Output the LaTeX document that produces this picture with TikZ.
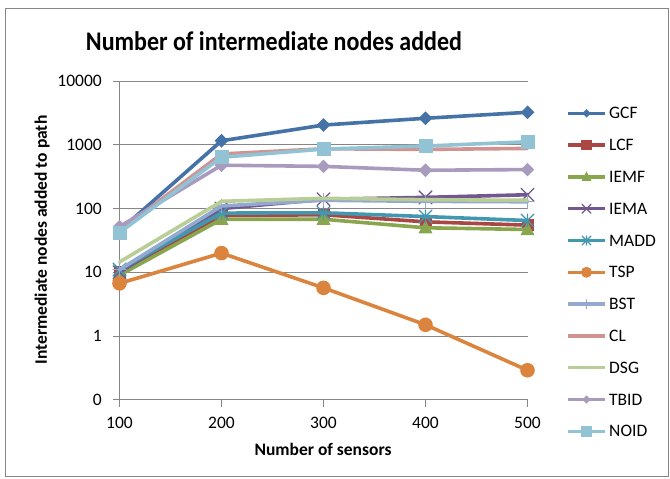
\documentclass[tikz,border=0pt]{standalone}
\usepackage{fontspec}
\setmainfont{Carlito}
\usetikzlibrary{plotmarks}

% Marker shapes in the Office chart style
\pgfdeclareplotmark{mdia}{%
  \pgfpathmoveto{\pgfqpoint{0pt}{\pgfplotmarksize}}%
  \pgfpathlineto{\pgfqpoint{\pgfplotmarksize}{0pt}}%
  \pgfpathlineto{\pgfqpoint{0pt}{-\pgfplotmarksize}}%
  \pgfpathlineto{\pgfqpoint{-\pgfplotmarksize}{0pt}}%
  \pgfpathclose\pgfusepathqfill}
\pgfdeclareplotmark{msq}{%
  \pgfpathrectangle{\pgfqpoint{-\pgfplotmarksize}{-\pgfplotmarksize}}%
    {\pgfqpoint{2\pgfplotmarksize}{2\pgfplotmarksize}}%
  \pgfusepathqfill}
\pgfdeclareplotmark{mtri}{%
  \pgfpathmoveto{\pgfqpoint{0pt}{1.1\pgfplotmarksize}}%
  \pgfpathlineto{\pgfqpoint{\pgfplotmarksize}{-0.8\pgfplotmarksize}}%
  \pgfpathlineto{\pgfqpoint{-\pgfplotmarksize}{-0.8\pgfplotmarksize}}%
  \pgfpathclose\pgfusepathqfill}
\pgfdeclareplotmark{mdot}{%
  \pgfpathcircle{\pgfpointorigin}{\pgfplotmarksize}\pgfusepathqfill}
\pgfdeclareplotmark{mcross}{%
  \pgfpathmoveto{\pgfqpoint{-\pgfplotmarksize}{-\pgfplotmarksize}}%
  \pgfpathlineto{\pgfqpoint{\pgfplotmarksize}{\pgfplotmarksize}}%
  \pgfpathmoveto{\pgfqpoint{-\pgfplotmarksize}{\pgfplotmarksize}}%
  \pgfpathlineto{\pgfqpoint{\pgfplotmarksize}{-\pgfplotmarksize}}%
  \pgfusepathqstroke}
\pgfdeclareplotmark{mstar}{%
  \pgfpathmoveto{\pgfqpoint{-\pgfplotmarksize}{-\pgfplotmarksize}}%
  \pgfpathlineto{\pgfqpoint{\pgfplotmarksize}{\pgfplotmarksize}}%
  \pgfpathmoveto{\pgfqpoint{-\pgfplotmarksize}{\pgfplotmarksize}}%
  \pgfpathlineto{\pgfqpoint{\pgfplotmarksize}{-\pgfplotmarksize}}%
  \pgfpathmoveto{\pgfqpoint{0pt}{-\pgfplotmarksize}}%
  \pgfpathlineto{\pgfqpoint{0pt}{\pgfplotmarksize}}%
  \pgfusepathqstroke}
\pgfdeclareplotmark{mplus}{%
  \pgfpathmoveto{\pgfqpoint{-\pgfplotmarksize}{0pt}}%
  \pgfpathlineto{\pgfqpoint{\pgfplotmarksize}{0pt}}%
  \pgfpathmoveto{\pgfqpoint{0pt}{-\pgfplotmarksize}}%
  \pgfpathlineto{\pgfqpoint{0pt}{\pgfplotmarksize}}%
  \pgfusepathqstroke}

\definecolor{cGCF}{HTML}{4572A7}
\definecolor{cLCF}{HTML}{AA4643}
\definecolor{cIEMF}{HTML}{89A54E}
\definecolor{cIEMA}{HTML}{71588F}
\definecolor{cMADD}{HTML}{4198AF}
\definecolor{cTSP}{HTML}{DB843D}
\definecolor{cBST}{HTML}{93A9CF}
\definecolor{cCL}{HTML}{D19392}
\definecolor{cDSG}{HTML}{B9CD96}
\definecolor{cTBID}{HTML}{A99BBD}
\definecolor{cNOID}{HTML}{91C3D5}
\definecolor{gridgray}{HTML}{868686}

\tikzset{
  series/.style={line width=3.6pt, line join=round, line cap=round,
    mark options={line width=1.3pt, solid}},
  gridline/.style={draw=gridgray, line width=1pt},
  axisline/.style={draw=gridgray, line width=1pt},
  frameline/.style={draw=gridgray, line width=1pt},
  ticklabel/.style={inner sep=0pt, font=\fontsize{17.5}{20}\selectfont},
  axtitle/.style={inner sep=0pt, font=\fontsize{17.5}{20}\selectfont\bfseries},
  legendtext/.style={inner sep=0pt, anchor=west, font=\fontsize{17.5}{20}\selectfont},
}

\begin{document}
\begin{tikzpicture}[x=1pt, y=-1pt,
  declare function={yp(\v)=336-63.7*log10(\v);}]
\useasboundingbox (0,0) rectangle (670,479);

% chart frame
\draw[frameline] (5.5,8.5) rectangle (668.5,476.5);

% title
\node[inner sep=0pt, anchor=base, yscale=1.12, font=\fontsize{24}{29}\selectfont\bfseries]
  (title) at (274,50) {Number of intermediate nodes added};

% gridlines and value labels (log scale)
\foreach \g in {1,10,100,1000,10000} {
  \draw[gridline] (113,{yp(\g)}) -- (527.5,{yp(\g)});
  \node[ticklabel, anchor=east] at (102,{yp(\g)}) {\g};
}
\node[ticklabel, anchor=east] (yzero) at (102,399.7) {0};

% axes
\draw[axisline] (119.5,81.2) -- (119.5,399.7) -- (527.5,399.7);
\draw[axisline] (113,399.7) -- (119.5,399.7);
\foreach \k/\lab in {0/100,1/200,2/300,3/400,4/500} {
  \draw[axisline] ({119.5+102*\k},399.7) -- ({119.5+102*\k},406.5);
  \node[ticklabel] at ({119.5+102*\k},423) {\lab};
}

% axis titles
\node[axtitle] (xtitle) at (323,449) {Number of sensors};
\node[axtitle, rotate=90] (ytitle) at (42,240) {Intermediate nodes added to path};

% data series
\draw[series, cGCF] plot[mark=mdia, mark size=6.8pt] coordinates {
  (119.5,{yp(45)}) (221.5,{yp(1160)}) (323.5,{yp(2050)}) (425.5,{yp(2620)}) (527.5,{yp(3250)})};
\draw[series, cLCF] plot[mark=msq, mark size=6pt] coordinates {
  (119.5,{yp(10)}) (221.5,{yp(78)}) (323.5,{yp(80)}) (425.5,{yp(62)}) (527.5,{yp(55)})};
\draw[series, cIEMF] plot[mark=mtri, mark size=7pt] coordinates {
  (119.5,{yp(9)}) (221.5,{yp(68)}) (323.5,{yp(68)}) (425.5,{yp(50)}) (527.5,{yp(47)})};
\draw[series, cIEMA] plot[mark=mcross, mark size=6.5pt] coordinates {
  (119.5,{yp(10)}) (221.5,{yp(100)}) (323.5,{yp(140)}) (425.5,{yp(150)}) (527.5,{yp(165)})};
\draw[series, cMADD] plot[mark=mstar, mark size=6.5pt] coordinates {
  (119.5,{yp(11)}) (221.5,{yp(85)}) (323.5,{yp(86)}) (425.5,{yp(75)}) (527.5,{yp(65)})};
\draw[series, cTSP] plot[mark=mdot, mark size=7.3pt] coordinates {
  (119.5,{yp(6.7)}) (221.5,{yp(20)}) (323.5,{yp(5.7)}) (425.5,{yp(1.5)}) (527.5,{yp(0.29)})};
\draw[series, cBST] plot[mark=mplus, mark size=6.5pt] coordinates {
  (119.5,{yp(11)}) (221.5,{yp(110)}) (323.5,{yp(135)}) (425.5,{yp(130)}) (527.5,{yp(128)})};
\draw[series, cCL] plot coordinates {
  (119.5,{yp(45)}) (221.5,{yp(720)}) (323.5,{yp(870)}) (425.5,{yp(850)}) (527.5,{yp(880)})};
\draw[series, cDSG] plot coordinates {
  (119.5,{yp(14.5)}) (221.5,{yp(130)}) (323.5,{yp(145)}) (425.5,{yp(138)}) (527.5,{yp(135)})};
\draw[series, cTBID] plot[mark=mdia, mark size=6.8pt] coordinates {
  (119.5,{yp(52)}) (221.5,{yp(480)}) (323.5,{yp(460)}) (425.5,{yp(400)}) (527.5,{yp(410)})};
\draw[series, cNOID] plot[mark=msq, mark size=7pt] coordinates {
  (119.5,{yp(42)}) (221.5,{yp(640)}) (323.5,{yp(860)}) (425.5,{yp(960)}) (527.5,{yp(1120)})};

% legend
\foreach \i/\name/\col/\mk/\ms in {
  0/GCF/cGCF/mdia/4.2pt, 1/LCF/cLCF/msq/5.2pt, 2/IEMF/cIEMF/mtri/5pt,
  3/IEMA/cIEMA/mcross/4.5pt, 4/MADD/cMADD/mstar/4.5pt, 5/TSP/cTSP/mdot/5.5pt,
  6/BST/cBST/mplus/4.5pt, 9/TBID/cTBID/mdia/4.2pt, 10/NOID/cNOID/msq/5.2pt} {
  \draw[series, line width=3.4pt, line cap=butt, \col] (568,{113.3+31.8*\i}) -- (605,{113.3+31.8*\i});
  \draw[series, \col] plot[mark=\mk, mark size=\ms] coordinates {(586.5,{113.3+31.8*\i})};
  \node[legendtext] at (609,{113.3+31.8*\i}) {\name};
}
\foreach \i/\name/\col in {7/CL/cCL, 8/DSG/cDSG} {
  \draw[series, line width=3.4pt, line cap=butt, \col] (568,{113.3+31.8*\i}) -- (605,{113.3+31.8*\i});
  \node[legendtext] at (609,{113.3+31.8*\i}) {\name};
}
\end{tikzpicture}
\end{document}
